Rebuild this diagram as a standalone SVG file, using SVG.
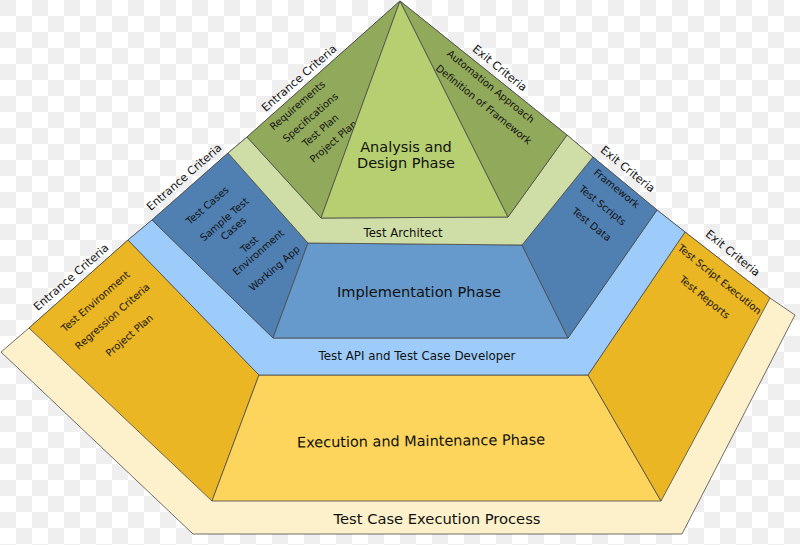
<svg xmlns="http://www.w3.org/2000/svg" width="800" height="545" viewBox="0 0 800 545">
<defs>
<pattern id="checker" width="32" height="32" patternUnits="userSpaceOnUse">
<rect width="32" height="32" fill="#ffffff"/>
<rect width="16" height="16" fill="#efefef"/>
<rect x="16" y="16" width="16" height="16" fill="#efefef"/>
</pattern>
<style>
.s{stroke:#4a4a4a;stroke-width:0.8;stroke-linejoin:round}
.cream{fill:#fdf1cb}
.ywing{fill:#ebb624}
.ycen{fill:#fdd55c}
.lblue{fill:#9dccfa}
.bwing{fill:#5080b2}
.bcen{fill:#6699cc}
.lgreen{fill:#cfdda6}
.gwing{fill:#91a95b}
.gcen{fill:#b6cf70}
text{font-family:"DejaVu Sans","Verdana",sans-serif;fill:#111111}
.big{font-size:14.5px}
.mid{font-size:11.6px}
.crit{font-size:11.2px}
.item{font-size:10px}
</style>
</defs>
<rect width="800" height="545" fill="url(#checker)"/>

<g id="test-case-execution-process">
<polygon class="s cream" points="1,352 29,328 128,240 152,220 228,153 247,137 400,1 567,135 593,157 657,210 685,232 770,298 795,315 682,534 193,534"/>
<text class="big" x="437" y="524" text-anchor="middle" textLength="207" lengthAdjust="spacingAndGlyphs">Test Case Execution Process</text>
</g>

<g id="execution-entrance-criteria">
<polygon class="s ywing" points="29,328 128,240 259,375 212,501"/>
<g transform="translate(71,277) rotate(-41)"><text class="crit" x="0" y="4" text-anchor="middle">Entrance Criteria</text></g>
<g transform="translate(95,301) rotate(-41)"><text class="item" x="0" y="4" text-anchor="middle">Test Environment</text></g>
<g transform="translate(112,316) rotate(-41)"><text class="item" x="0" y="4" text-anchor="middle">Regression Criteria</text></g>
<g transform="translate(129,335) rotate(-41)"><text class="item" x="0" y="4" text-anchor="middle">Project Plan</text></g>
</g>

<g id="execution-phase">
<polygon class="s ycen" points="259,375 588,375 661,501 212,501"/>
<text class="big" x="421" y="446" text-anchor="middle" textLength="248" lengthAdjust="spacingAndGlyphs" transform="rotate(-0.7 421 441)">Execution and Maintenance Phase</text>
</g>

<g id="execution-exit-criteria">
<polygon class="s ywing" points="588,375 685,232 770,298 661,501"/>
<g transform="translate(733,253) rotate(39)"><text class="crit" x="0" y="4" text-anchor="middle">Exit Criteria</text></g>
<g transform="translate(720,279) rotate(39)"><text class="item" x="0" y="4" text-anchor="middle">Test Script Execution</text></g>
<g transform="translate(705,297) rotate(39)"><text class="item" x="0" y="4" text-anchor="middle">Test Reports</text></g>
</g>

<g id="test-api-developer">
<polygon class="s lblue" points="128,240 152,220 273,338 568,338 657,210 685,232 588,375 259,375"/>
<text class="mid" x="417" y="360" text-anchor="middle" textLength="197" lengthAdjust="spacingAndGlyphs">Test API and Test Case Developer</text>
</g>

<g id="implementation-entrance-criteria">
<polygon class="s bwing" points="152,220 228,153 308,243 273,338"/>
<g transform="translate(184,177) rotate(-41)"><text class="crit" x="0" y="4" text-anchor="middle">Entrance Criteria</text></g>
<g transform="translate(207,205) rotate(-41)"><text class="item" x="0" y="4" text-anchor="middle">Test Cases</text></g>
<g transform="translate(224,219) rotate(-41)"><text class="item" x="0" y="4" text-anchor="middle">Sample Test</text></g>
<g transform="translate(233,228) rotate(-41)"><text class="item" x="0" y="4" text-anchor="middle">Cases</text></g>
<g transform="translate(249,244) rotate(-41)"><text class="item" x="0" y="4" text-anchor="middle">Test</text></g>
<g transform="translate(258,252) rotate(-41)"><text class="item" x="0" y="4" text-anchor="middle">Environment</text></g>
<g transform="translate(274,268) rotate(-41)"><text class="item" x="0" y="4" text-anchor="middle">Working App</text></g>
</g>

<g id="implementation-phase">
<polygon class="s bcen" points="308,243 522,245 568,338 273,338"/>
<text class="big" x="419" y="297" text-anchor="middle" textLength="164" lengthAdjust="spacingAndGlyphs">Implementation Phase</text>
</g>

<g id="implementation-exit-criteria">
<polygon class="s bwing" points="522,245 593,157 657,210 568,338"/>
<g transform="translate(628,169) rotate(39)"><text class="crit" x="0" y="4" text-anchor="middle">Exit Criteria</text></g>
<g transform="translate(617,188) rotate(39)"><text class="item" x="0" y="4" text-anchor="middle">Framework</text></g>
<g transform="translate(603,205) rotate(39)"><text class="item" x="0" y="4" text-anchor="middle">Test Scripts</text></g>
<g transform="translate(592,224) rotate(39)"><text class="item" x="0" y="4" text-anchor="middle">Test Data</text></g>
</g>

<g id="test-architect">
<polygon class="s lgreen" points="228,153 247,137 321,218 508,217 567,135 593,157 522,245 308,243"/>
<text class="mid" x="403" y="237" text-anchor="middle" textLength="79" lengthAdjust="spacingAndGlyphs">Test Architect</text>
</g>

<g id="analysis-entrance-criteria">
<polygon class="s gwing" points="400,1 247,137 321,218"/>
<g transform="translate(299,78) rotate(-41)"><text class="crit" x="0" y="4" text-anchor="middle">Entrance Criteria</text></g>
<g transform="translate(297,105) rotate(-41)"><text class="item" x="0" y="4" text-anchor="middle">Requirements</text></g>
<g transform="translate(310,117) rotate(-41)"><text class="item" x="0" y="4" text-anchor="middle">Specifications</text></g>
<g transform="translate(320,130) rotate(-41)"><text class="item" x="0" y="4" text-anchor="middle">Test Plan</text></g>
<g transform="translate(333,141) rotate(-41)"><text class="item" x="0" y="4" text-anchor="middle">Project Plan</text></g>
</g>

<g id="analysis-phase">
<polygon class="s gcen" points="400,1 321,218 508,217"/>
<text class="big" x="406" y="152" text-anchor="middle">Analysis and</text>
<text class="big" x="406" y="168" text-anchor="middle">Design Phase</text>
</g>

<g id="analysis-exit-criteria">
<polygon class="s gwing" points="400,1 508,217 567,135"/>
<g transform="translate(500,68) rotate(39)"><text class="crit" x="0" y="4" text-anchor="middle">Exit Criteria</text></g>
<g transform="translate(491,86) rotate(39)"><text class="item" x="0" y="4" text-anchor="middle">Automation Approach</text></g>
<g transform="translate(484,104) rotate(39)"><text class="item" x="0" y="4" text-anchor="middle">Definition of Framework</text></g>
</g>

<g id="connectors"></g>
</svg>
